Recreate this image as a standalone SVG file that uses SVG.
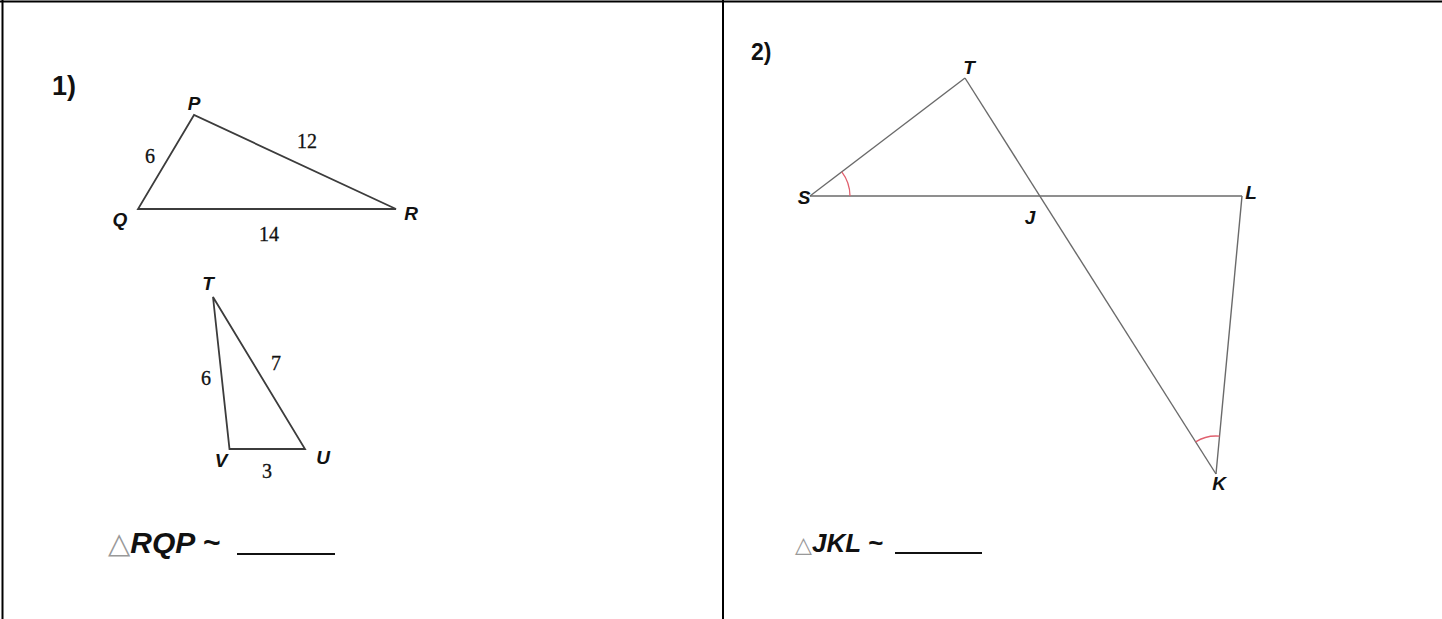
<svg xmlns="http://www.w3.org/2000/svg" width="1442" height="619" viewBox="0 0 1442 619">
<style>
.frame{stroke:#000;stroke-width:2;fill:none}
.e1{stroke:#3c3c3c;stroke-width:1.8;fill:none;stroke-linejoin:miter}
.e2{stroke:#6a6a6a;stroke-width:1.4;fill:none}
.arc{stroke:#e0606e;stroke-width:1.3;fill:none}
.num{font-family:"Liberation Serif",serif;font-size:20px;fill:#111;text-anchor:middle;stroke:#111;stroke-width:0.3}
.lbl{font-family:"Liberation Sans",Arial,sans-serif;font-weight:bold;font-style:italic;font-size:19px;fill:#111;text-anchor:middle}
.hdr{font-family:"Liberation Sans",Arial,sans-serif;font-weight:bold;fill:#111}
.sim{font-family:"Liberation Sans",Arial,sans-serif;font-weight:bold;font-style:italic;fill:#111}
.tri{font-family:"DejaVu Sans",sans-serif;font-style:normal;font-weight:normal;fill:#999}
.blank{stroke:#111;stroke-width:2.2}
</style>
<rect width="1442" height="619" fill="#fff"/>
<g id="frame">
<line class="frame" x1="0" y1="1.5" x2="1442" y2="1.5"/>
<line class="frame" x1="2.5" y1="0" x2="2.5" y2="619"/>
<line class="frame" x1="723" y1="0" x2="723" y2="619"/>
</g>
<g id="problem1">
<text class="hdr" x="52" y="95" font-size="27">1)</text>
<g id="triPQR">
<polygon class="e1" points="194,115 138,209 396,209"/>
<text class="lbl" x="194" y="110">P</text>
<text class="lbl" x="120" y="226">Q</text>
<text class="lbl" x="411" y="220">R</text>
<text class="num" x="150" y="163">6</text>
<text class="num" x="307" y="148">12</text>
<text class="num" x="269" y="241">14</text>
</g>
<g id="triTVU">
<polygon class="e1" points="213,297 229.5,449 305,449"/>
<text class="lbl" x="208" y="290">T</text>
<text class="lbl" x="221" y="467">V</text>
<text class="lbl" x="323" y="464">U</text>
<text class="num" x="206" y="385">6</text>
<text class="num" x="276" y="370">7</text>
<text class="num" x="267" y="478">3</text>
</g>
<g id="answer1">
<text class="sim" x="108" y="553" font-size="30"><tspan class="tri" font-size="29">△</tspan>RQP ~</text>
<line class="blank" x1="237" y1="554" x2="335" y2="554"/>
</g>
</g>
<g id="problem2">
<text class="hdr" x="751" y="60" font-size="23">2)</text>
<g id="connectors">
<line class="e2" x1="810" y1="196" x2="965" y2="78"/>
<line class="e2" x1="965" y1="78" x2="1216" y2="474"/>
<line class="e2" x1="810" y1="196" x2="1242" y2="196"/>
<line class="e2" x1="1242" y1="196" x2="1216" y2="474"/>
<path class="arc" d="M850,196 A40,40 0 0 0 841.8,171.8"/>
<path class="arc" d="M1195.7,441.9 A38,38 0 0 1 1219.5,436.2"/>
</g>
<g id="labels2">
<text class="lbl" x="969" y="74">T</text>
<text class="lbl" x="804" y="204">S</text>
<text class="lbl" x="1030" y="224">J</text>
<text class="lbl" x="1251" y="199">L</text>
<text class="lbl" x="1219" y="490">K</text>
</g>
<g id="answer2">
<text class="sim" x="795" y="552" font-size="26"><tspan class="tri" font-size="22">△</tspan>JKL ~</text>
<line class="blank" x1="895" y1="553" x2="982" y2="553"/>
</g>
</g>
</svg>
